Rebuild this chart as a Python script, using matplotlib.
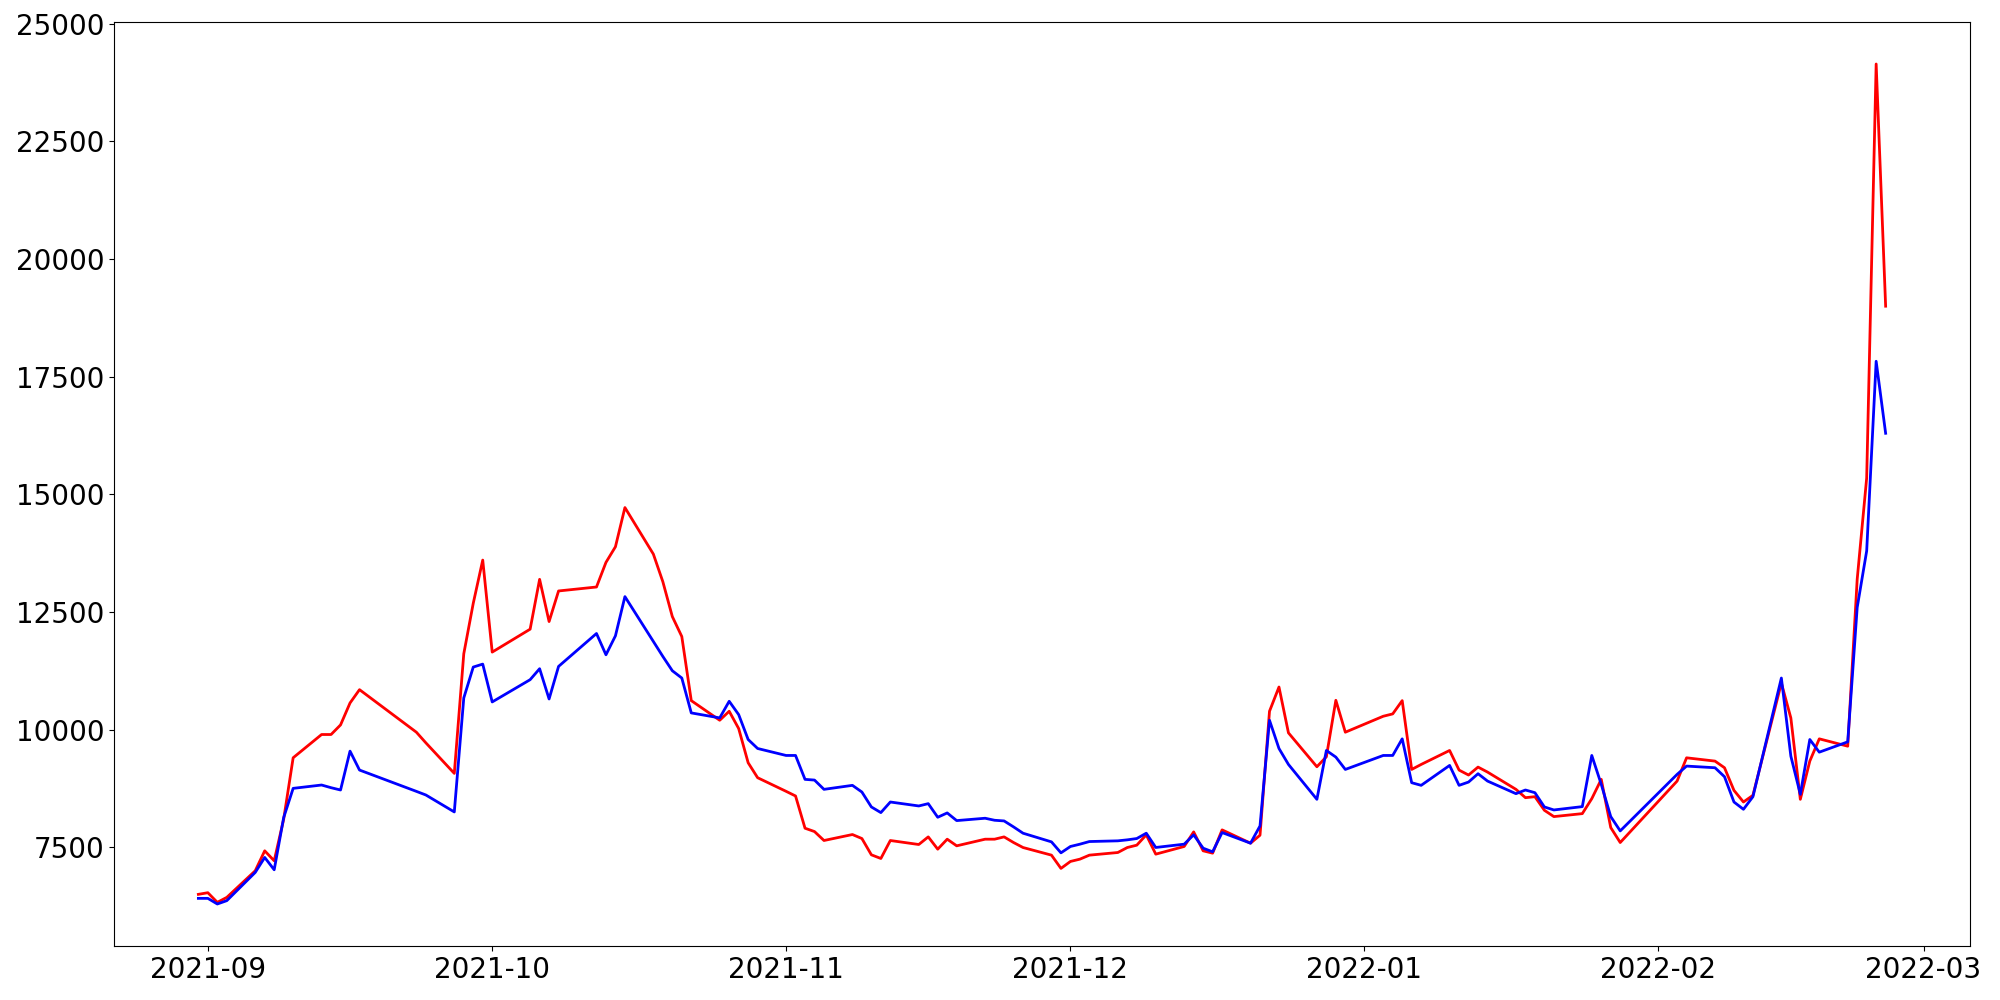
import pandas as pd
import matplotlib
matplotlib.use('Agg')
import matplotlib.pyplot as plt

# trading days (Korean market calendar)
dates = [
    '2021-08-31', '2021-09-01', '2021-09-02', '2021-09-03', '2021-09-06', '2021-09-07',
    '2021-09-08', '2021-09-09', '2021-09-10', '2021-09-13', '2021-09-14', '2021-09-15',
    '2021-09-16', '2021-09-17', '2021-09-23', '2021-09-24', '2021-09-27', '2021-09-28',
    '2021-09-29', '2021-09-30', '2021-10-01', '2021-10-05', '2021-10-06', '2021-10-07',
    '2021-10-08', '2021-10-12', '2021-10-13', '2021-10-14', '2021-10-15', '2021-10-18',
    '2021-10-19', '2021-10-20', '2021-10-21', '2021-10-22', '2021-10-25', '2021-10-26',
    '2021-10-27', '2021-10-28', '2021-10-29', '2021-11-01', '2021-11-02', '2021-11-03',
    '2021-11-04', '2021-11-05', '2021-11-08', '2021-11-09', '2021-11-10', '2021-11-11',
    '2021-11-12', '2021-11-15', '2021-11-16', '2021-11-17', '2021-11-18', '2021-11-19',
    '2021-11-22', '2021-11-23', '2021-11-24', '2021-11-25', '2021-11-26', '2021-11-29',
    '2021-11-30', '2021-12-01', '2021-12-02', '2021-12-03', '2021-12-06', '2021-12-07',
    '2021-12-08', '2021-12-09', '2021-12-10', '2021-12-13', '2021-12-14', '2021-12-15',
    '2021-12-16', '2021-12-17', '2021-12-20', '2021-12-21', '2021-12-22', '2021-12-23',
    '2021-12-24', '2021-12-27', '2021-12-28', '2021-12-29', '2021-12-30', '2022-01-03',
    '2022-01-04', '2022-01-05', '2022-01-06', '2022-01-07', '2022-01-10', '2022-01-11',
    '2022-01-12', '2022-01-13', '2022-01-14', '2022-01-17', '2022-01-18', '2022-01-19',
    '2022-01-20', '2022-01-21', '2022-01-24', '2022-01-25', '2022-01-26', '2022-01-27',
    '2022-01-28', '2022-02-03', '2022-02-04', '2022-02-07', '2022-02-08', '2022-02-09',
    '2022-02-10', '2022-02-11', '2022-02-14', '2022-02-15', '2022-02-16', '2022-02-17',
    '2022-02-18', '2022-02-21', '2022-02-22', '2022-02-23', '2022-02-24', '2022-02-25',
]

red_values = [
    6504, 6539, 6334, 6440, 7005, 7429,
    7217, 8100, 9406, 9900, 9900, 10104,
    10570, 10853, 9949, 9723, 9074, 11615,
    12688, 13606, 11651, 12138, 13197, 12300,
    12950, 13034, 13557, 13889, 14722, 13733,
    13147, 12406, 11982, 10620, 10203, 10394,
    10027, 9300, 8982, 8693, 8594, 7909,
    7838, 7648, 7775, 7690, 7344, 7266,
    7648, 7563, 7725, 7464, 7676, 7535,
    7676, 7676, 7725, 7605, 7499, 7337,
    7055, 7203, 7252, 7337, 7393, 7499,
    7549, 7768, 7358, 7521, 7831, 7429,
    7379, 7874, 7591, 7761, 10394, 10909,
    9935, 9215, 9427, 10627, 9949, 10288,
    10338, 10620, 9158, 9264, 9561, 9144,
    9039, 9208, 9102, 8735, 8558, 8579,
    8290, 8156, 8219, 8537, 8947, 7923,
    7605, 8911, 9405, 9335, 9194, 8713,
    8466, 8608, 10994, 10252, 8523, 9335,
    9808, 9652, 13200, 15350, 24146, 19000,
]

blue_values = [
    6419, 6419, 6299, 6370, 6970, 7288,
    7026, 8135, 8756, 8827, 8770, 8721,
    9547, 9145, 8692, 8615, 8255, 10676,
    11333, 11396, 10592, 11065, 11298, 10655,
    11347, 12046, 11594, 11997, 12830, 11877,
    11559, 11255, 11100, 10359, 10253, 10606,
    10323, 9794, 9603, 9455, 9455, 8947,
    8932, 8735, 8820, 8678, 8361, 8241,
    8466, 8382, 8431, 8142, 8234, 8071,
    8121, 8078, 8064, 7937, 7803, 7619,
    7386, 7521, 7570, 7626, 7641, 7662,
    7690, 7803, 7500, 7570, 7768, 7485,
    7408, 7817, 7591, 7958, 10203, 9603,
    9264, 8523, 9561, 9420, 9158, 9455,
    9455, 9808, 8876, 8820, 9243, 8820,
    8890, 9067, 8911, 8643, 8721, 8664,
    8361, 8297, 8368, 9455, 8841, 8156,
    7852, 9053, 9229, 9194, 9003, 8466,
    8311, 8579, 11100, 9441, 8629, 9794,
    9525, 9744, 12600, 13800, 17830, 16300,
]

df = pd.DataFrame({'date': pd.to_datetime(dates), 'red': red_values, 'blue': blue_values})

fig, ax = plt.subplots(figsize=(20, 10), dpi=100)
ax.plot(df['date'], df['red'], color='red', linewidth=2)
ax.plot(df['date'], df['blue'], color='blue', linewidth=2)

ax.tick_params(axis='both', labelsize=20)

plt.subplots_adjust(left=0.057, right=0.985, top=0.978, bottom=0.054)
plt.savefig('out.png')
